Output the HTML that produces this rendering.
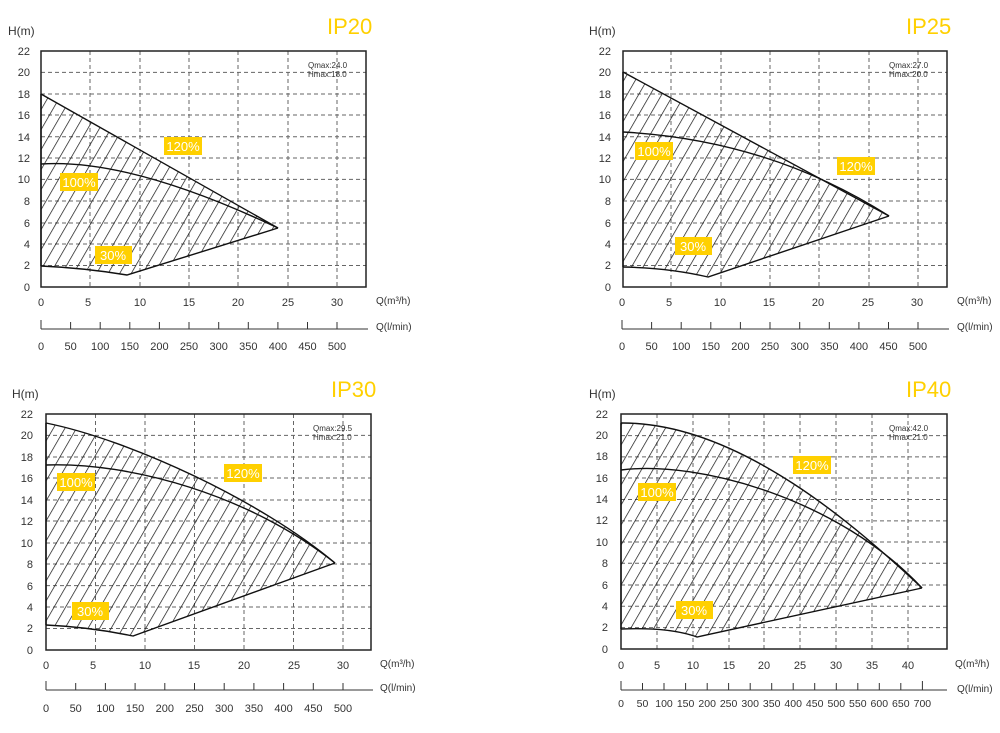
<!DOCTYPE html>
<html><head><meta charset="utf-8"><style>
html,body{margin:0;padding:0;background:#fff;}
svg{display:block;font-family:"Liberation Sans",sans-serif;}
.g{stroke:#666;stroke-width:1;stroke-dasharray:4 3;fill:none}
.b{stroke:#222;stroke-width:1.5;fill:none}
.c{stroke:#111;stroke-width:1.4;fill:none}
.yt{font-size:11px;fill:#333;text-anchor:end}
.xt{font-size:11px;fill:#333;text-anchor:middle}
.ax{font-size:10px;fill:#333}
.ti{font-size:22px;fill:#FFD000}
.q{font-size:8px;fill:#333}
.lb{font-size:13px;fill:#fff;text-anchor:middle}
.hm{font-size:12px;fill:#333}
</style></head><body>
<svg width="1000" height="733" viewBox="0 0 1000 733">
<defs>
<pattern id="h" patternUnits="userSpaceOnUse" width="10" height="200" patternTransform="rotate(30)">
<line x1="0" y1="0" x2="0" y2="200" stroke="#111" stroke-width="1.4"/>
</pattern>
<clipPath id="r1"><path d="M41,94 L278,228 L127,275 Q85,268 41,266 Z"/></clipPath>
<clipPath id="r2"><path d="M623,72 L889,216 L708,277 Q670,268 623,267 Z"/></clipPath>
<clipPath id="r3"><path d="M46,423 C130,440 260,500 335,563 L133,636 Q90,627 46,625 Z"/></clipPath>
<clipPath id="r4"><path d="M621,423 C740,422 860,530 922,588 L697,637 Q670,627 621,629 Z"/></clipPath>
</defs>

<!-- ===== Chart 1 ===== -->
<text class="hm" x="8" y="35">H(m)</text>
<text class="ti" x="327" y="34">IP20</text>
<g class="g">
<path d="M90,51V287M140,51V287M189,51V287M238,51V287M288,51V287M337,51V287"/>
<path d="M41,265.5H366M41,244H366M41,223H366M41,201H366M41,179.4H366M41,158H366M41,136.7H366M41,115H366M41,94H366M41,72.4H366"/>
</g>
<rect x="41" y="51" width="325" height="236" class="b"/>
<rect x="41" y="51" width="325" height="236" fill="url(#h)" clip-path="url(#r1)"/>
<path class="c" d="M41,94 L278,228"/>
<path class="c" d="M41,164 Q130,158 278,228"/>
<path class="c" d="M41,266 Q85,268 127,275 L278,228"/>
<path class="c" d="M41,94 V266"/>
<g class="yt"><text x="30" y="291">0</text><text x="30" y="269">2</text><text x="30" y="248">4</text><text x="30" y="227">6</text><text x="30" y="205">8</text><text x="30" y="183">10</text><text x="30" y="162">12</text><text x="30" y="141">14</text><text x="30" y="119">16</text><text x="30" y="98">18</text><text x="30" y="76">20</text><text x="30" y="55">22</text></g>
<g class="xt"><text x="41" y="306">0</text><text x="88" y="306">5</text><text x="140" y="306">10</text><text x="189" y="306">15</text><text x="238" y="306">20</text><text x="288" y="306">25</text><text x="337" y="306">30</text></g>
<text class="ax" x="376" y="304">Q(m³/h)</text>
<path d="M41,329H368M41,320V329M70.6,322V329M100.2,322V329M129.8,322V329M159.4,322V329M189,322V329M218.7,322V329M248.3,322V329M277.9,322V329M307.5,322V329M337,322V329" stroke="#333" fill="none"/>
<text class="ax" x="376" y="330">Q(l/min)</text>
<g class="xt"><text x="41" y="350">0</text><text x="70.6" y="350">50</text><text x="100.2" y="350">100</text><text x="129.8" y="350">150</text><text x="159.4" y="350">200</text><text x="189" y="350">250</text><text x="218.7" y="350">300</text><text x="248.3" y="350">350</text><text x="277.9" y="350">400</text><text x="307.5" y="350">450</text><text x="337" y="350">500</text></g>
<text class="q" x="308" y="68">Qmax:24.0</text><text class="q" x="308" y="77">Hmax:18.0</text>
<rect x="164" y="137" width="38" height="18" fill="#FFD000"/><text class="lb" x="183" y="151">120%</text>
<rect x="60" y="173" width="38" height="18" fill="#FFD000"/><text class="lb" x="79" y="187">100%</text>
<rect x="95" y="246" width="37" height="18" fill="#FFD000"/><text class="lb" x="113" y="260">30%</text>

<!-- ===== Chart 2 ===== -->
<text class="hm" x="589" y="35">H(m)</text>
<text class="ti" x="906" y="34">IP25</text>
<g class="g">
<path d="M671,51V287M721,51V287M770,51V287M819,51V287M869,51V287M918,51V287"/>
<path d="M623,265.5H947M623,244H947M623,223H947M623,201H947M623,179.4H947M623,158H947M623,136.7H947M623,115H947M623,94H947M623,72.4H947"/>
</g>
<rect x="623" y="51" width="324" height="236" class="b"/>
<rect x="623" y="51" width="324" height="236" fill="url(#h)" clip-path="url(#r2)"/>
<path class="c" d="M623,72 L889,216"/>
<path class="c" d="M623,132 Q770,140 889,216"/>
<path class="c" d="M623,267 Q670,268 708,277 L889,216"/>
<path class="c" d="M623,72 V267"/>
<g class="yt"><text x="611" y="291">0</text><text x="611" y="269">2</text><text x="611" y="248">4</text><text x="611" y="227">6</text><text x="611" y="205">8</text><text x="611" y="183">10</text><text x="611" y="162">12</text><text x="611" y="141">14</text><text x="611" y="119">16</text><text x="611" y="98">18</text><text x="611" y="76">20</text><text x="611" y="55">22</text></g>
<g class="xt"><text x="622" y="306">0</text><text x="669" y="306">5</text><text x="720" y="306">10</text><text x="769" y="306">15</text><text x="818" y="306">20</text><text x="868" y="306">25</text><text x="917" y="306">30</text></g>
<text class="ax" x="957" y="304">Q(m³/h)</text>
<path d="M622,329H949M622,320V329M651.6,322V329M681.2,322V329M710.8,322V329M740.4,322V329M770,322V329M799.7,322V329M829.3,322V329M858.9,322V329M888.5,322V329M918,322V329" stroke="#333" fill="none"/>
<text class="ax" x="957" y="330">Q(l/min)</text>
<g class="xt"><text x="622" y="350">0</text><text x="651.6" y="350">50</text><text x="681.2" y="350">100</text><text x="710.8" y="350">150</text><text x="740.4" y="350">200</text><text x="770" y="350">250</text><text x="799.7" y="350">300</text><text x="829.3" y="350">350</text><text x="858.9" y="350">400</text><text x="888.5" y="350">450</text><text x="918" y="350">500</text></g>
<text class="q" x="889" y="68">Qmax:27.0</text><text class="q" x="889" y="77">Hmax:20.0</text>
<rect x="635" y="142" width="38" height="18" fill="#FFD000"/><text class="lb" x="654" y="156">100%</text>
<rect x="837" y="157" width="38" height="18" fill="#FFD000"/><text class="lb" x="856" y="171">120%</text>
<rect x="675" y="237" width="37" height="18" fill="#FFD000"/><text class="lb" x="693" y="251">30%</text>

<!-- ===== Chart 3 ===== -->
<text class="hm" x="12" y="398">H(m)</text>
<text class="ti" x="331" y="397">IP30</text>
<g class="g">
<path d="M95.5,414V650M145,414V650M194.5,414V650M244,414V650M293.5,414V650M343,414V650"/>
<path d="M46,628.5H371M46,607H371M46,585.6H371M46,564H371M46,543H371M46,521H371M46,500H371M46,478H371M46,457H371M46,435.4H371"/>
</g>
<rect x="46" y="414" width="325" height="236" class="b"/>
<rect x="46" y="414" width="325" height="236" fill="url(#h)" clip-path="url(#r3)"/>
<path class="c" d="M46,423 C130,440 260,500 335,563"/>
<path class="c" d="M46,465 C130,462 250,495 335,563"/>
<path class="c" d="M46,625 Q90,627 133,636 L335,563"/>
<path class="c" d="M46,423 V625"/>
<g class="yt"><text x="33" y="654">0</text><text x="33" y="632">2</text><text x="33" y="611">4</text><text x="33" y="590">6</text><text x="33" y="568">8</text><text x="33" y="547">10</text><text x="33" y="525">12</text><text x="33" y="504">14</text><text x="33" y="482">16</text><text x="33" y="461">18</text><text x="33" y="439">20</text><text x="33" y="418">22</text></g>
<g class="xt"><text x="46" y="669">0</text><text x="93" y="669">5</text><text x="145" y="669">10</text><text x="194" y="669">15</text><text x="244" y="669">20</text><text x="294" y="669">25</text><text x="343" y="669">30</text></g>
<text class="ax" x="380" y="667">Q(m³/h)</text>
<path d="M46,690H373M46,681V690M75.7,683V690M105.4,683V690M135.1,683V690M164.8,683V690M194.5,683V690M224.2,683V690M253.9,683V690M283.6,683V690M313.3,683V690M343,683V690" stroke="#333" fill="none"/>
<text class="ax" x="380" y="691">Q(l/min)</text>
<g class="xt"><text x="46" y="712">0</text><text x="75.7" y="712">50</text><text x="105.4" y="712">100</text><text x="135.1" y="712">150</text><text x="164.8" y="712">200</text><text x="194.5" y="712">250</text><text x="224.2" y="712">300</text><text x="253.9" y="712">350</text><text x="283.6" y="712">400</text><text x="313.3" y="712">450</text><text x="343" y="712">500</text></g>
<text class="q" x="313" y="431">Qmax:29.5</text><text class="q" x="313" y="440">Hmax:21.0</text>
<rect x="57" y="473" width="38" height="18" fill="#FFD000"/><text class="lb" x="76" y="487">100%</text>
<rect x="224" y="464" width="38" height="18" fill="#FFD000"/><text class="lb" x="243" y="478">120%</text>
<rect x="72" y="602" width="37" height="18" fill="#FFD000"/><text class="lb" x="90" y="616">30%</text>

<!-- ===== Chart 4 ===== -->
<text class="hm" x="589" y="398">H(m)</text>
<text class="ti" x="906" y="397">IP40</text>
<g class="g">
<path d="M657,414V649M693,414V649M729,414V649M764,414V649M800,414V649M836,414V649M872,414V649M908,414V649"/>
<path d="M621,627.6H947M621,606.3H947M621,585H947M621,563.3H947M621,542H947M621,520.9H947M621,499.5H947M621,478H947M621,456.9H947M621,435.6H947"/>
</g>
<rect x="621" y="414" width="326" height="235" class="b"/>
<rect x="621" y="414" width="326" height="235" fill="url(#h)" clip-path="url(#r4)"/>
<path class="c" d="M621,423 C740,422 860,530 922,588"/>
<path class="c" d="M621,470 C700,460 840,500 922,588"/>
<path class="c" d="M621,629 Q670,627 697,637 L922,588"/>
<path class="c" d="M621,423 V629"/>
<g class="yt"><text x="608" y="653">0</text><text x="608" y="631">2</text><text x="608" y="610">4</text><text x="608" y="589">6</text><text x="608" y="567">8</text><text x="608" y="546">10</text><text x="608" y="524">12</text><text x="608" y="503">14</text><text x="608" y="482">16</text><text x="608" y="460">18</text><text x="608" y="439">20</text><text x="608" y="418">22</text></g>
<g class="xt"><text x="621" y="669">0</text><text x="657" y="669">5</text><text x="693" y="669">10</text><text x="729" y="669">15</text><text x="764" y="669">20</text><text x="800" y="669">25</text><text x="836" y="669">30</text><text x="872" y="669">35</text><text x="908" y="669">40</text></g>
<text class="ax" x="955" y="667">Q(m³/h)</text>
<path d="M621,690H947M621,681V690M642.5,683V690M664,683V690M685.6,683V690M707.2,683V690M728.6,683V690M750.2,683V690M771.7,683V690M793.2,683V690M814.7,683V690M836.3,683V690M857.8,683V690M879.3,683V690M900.8,683V690M922.4,681V690" stroke="#333" fill="none"/>
<text class="ax" x="957" y="692">Q(l/min)</text>
<g class="xt" style="font-size:10.5px"><text x="621" y="707">0</text><text x="642.5" y="707">50</text><text x="664" y="707">100</text><text x="685.6" y="707">150</text><text x="707.2" y="707">200</text><text x="728.6" y="707">250</text><text x="750.2" y="707">300</text><text x="771.7" y="707">350</text><text x="793.2" y="707">400</text><text x="814.7" y="707">450</text><text x="836.3" y="707">500</text><text x="857.8" y="707">550</text><text x="879.3" y="707">600</text><text x="900.8" y="707">650</text><text x="922.4" y="707">700</text></g>
<text class="q" x="889" y="431">Qmax:42.0</text><text class="q" x="889" y="440">Hmax:21.0</text>
<rect x="793" y="456" width="38" height="18" fill="#FFD000"/><text class="lb" x="812" y="470">120%</text>
<rect x="638" y="483" width="38" height="18" fill="#FFD000"/><text class="lb" x="657" y="497">100%</text>
<rect x="676" y="601" width="37" height="18" fill="#FFD000"/><text class="lb" x="694" y="615">30%</text>
</svg>
</body></html>
